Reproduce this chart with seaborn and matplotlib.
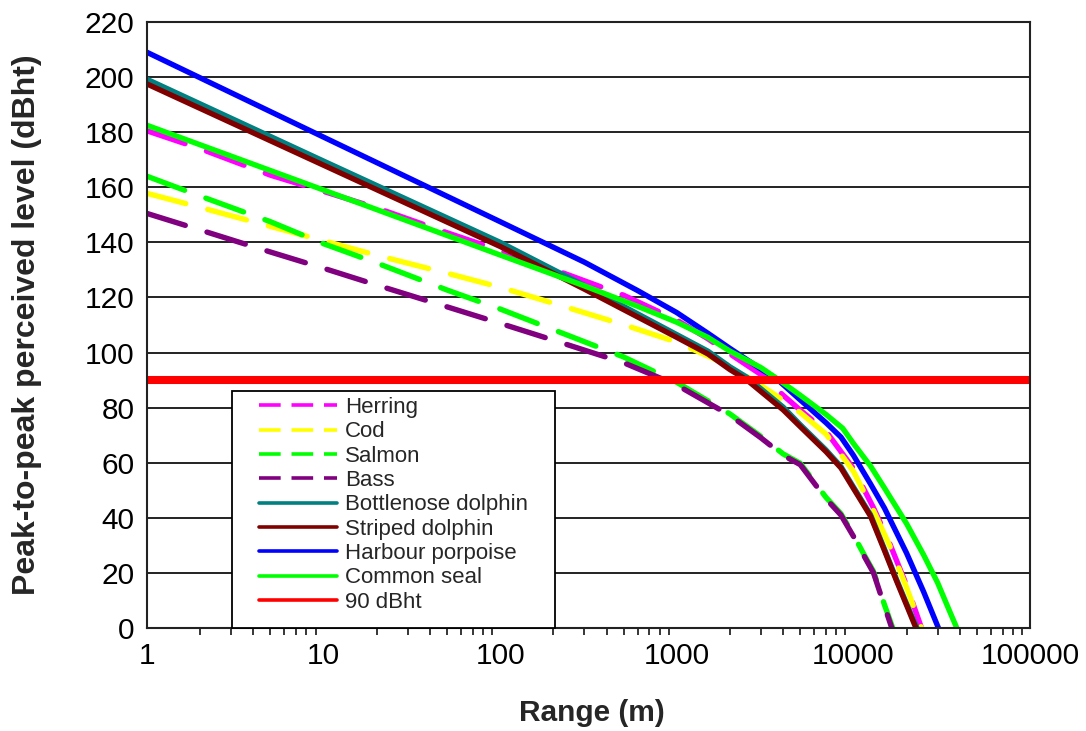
import matplotlib
matplotlib.use("Agg")
import matplotlib.pyplot as plt
import numpy as np
import pandas as pd
import seaborn as sns
from matplotlib.lines import Line2D
from matplotlib.patches import Rectangle
from matplotlib.ticker import LogLocator, NullFormatter

# Perceived peak-to-peak level (dBht) against range (m) for each species
herring_range = [1, 2, 5, 10, 20, 50, 100, 200, 500, 1000, 1500, 2000, 3000, 4000,
                 5000, 7000, 10000, 13000, 16000, 20000, 24300]
herring_level = [180.5, 174.0, 164.4, 158.5, 152.5, 143.5, 137.0, 130.2, 120.8, 111.8,
                 105.0, 99.5, 92.0, 84.5, 79.1, 71.4, 57.9, 43.6, 30.9, 15.5, 0.0]

cod_range = [1, 2, 5, 10, 20, 50, 100, 200, 500, 1000, 2000, 3000, 4000, 5000,
             7000, 10000, 13000, 16000, 20000, 24300]
cod_level = [157.8, 152.7, 145.8, 140.6, 135.3, 128.8, 123.7, 117.9, 110.1, 103.8,
             95.1, 88.0, 82.7, 78.2, 70.4, 56.9, 42.6, 30.1, 14.7, 0.0]

salmon_range = [1, 2, 5, 10, 20, 50, 100, 200, 500, 1000, 2000, 3000, 4000, 5000,
                7000, 8500, 10000, 11500, 13000, 15000, 16700]
salmon_level = [164.0, 156.8, 147.5, 139.5, 132.5, 122.7, 115.8, 108.3, 98.4, 89.2,
                77.7, 69.5, 63.2, 59.8, 47.4, 41.5, 33.8, 26.6, 20.5, 8.4, 0.0]

bass_range = [1, 2, 5, 10, 20, 50, 100, 200, 500, 1000, 2000, 3000, 4000, 5000,
              7000, 8500, 10000, 11500, 13000, 15000, 16500]
bass_level = [150.5, 144.5, 136.5, 130.6, 124.5, 116.6, 110.6, 104.5, 96.3, 88.2,
              77.2, 69.0, 62.7, 59.3, 46.9, 41.0, 33.3, 26.1, 20.0, 7.9, 0.0]

bottlenose_range = [1, 10, 100, 300, 1000, 1500, 2000, 2500, 3000, 4000, 5000, 7000,
                    8500, 10000, 12500, 15000, 17500, 20000, 22900]
bottlenose_level = [199.2, 169.5, 140.0, 124.3, 106.5, 100.5, 94.8, 91.0, 86.8, 80.2,
                    73.8, 64.6, 58.6, 51.2, 41.1, 28.6, 17.8, 8.8, 0.0]

striped_range = [1, 10, 100, 300, 1000, 1500, 2000, 2500, 3000, 4000, 5000, 7000,
                 8500, 10000, 12500, 15000, 17500, 20000, 22600]
striped_level = [197.5, 168.0, 138.5, 123.0, 105.5, 99.5, 93.8, 90.0, 85.8, 79.2,
                 73.1, 64.0, 58.1, 50.7, 40.6, 28.1, 17.3, 8.3, 0.0]

porpoise_range = [1, 10, 100, 300, 600, 1000, 1500, 2000, 3000, 3700, 5000, 7000,
                  8500, 10000, 12500, 15000, 20000, 25000, 30300]
porpoise_level = [209.0, 178.2, 147.5, 132.8, 122.5, 114.5, 107.0, 101.5, 94.0, 90.3,
                  82.8, 74.5, 69.3, 62.7, 52.3, 43.5, 27.2, 13.1, 0.0]

seal_range = [1, 10, 100, 300, 600, 1000, 1500, 2000, 3000, 3700, 5000, 7000, 8700,
              10000, 12500, 15000, 20000, 25000, 30000, 35000, 38500]
seal_level = [182.5, 159.0, 135.4, 124.2, 116.8, 111.0, 105.5, 100.5, 94.5, 90.5,
              84.5, 77.5, 72.5, 67.0, 58.8, 50.8, 37.9, 26.5, 16.4, 6.2, 0.0]

threshold_range = [1, 100000]
threshold_level = [90, 90]

labels = ["Herring", "Cod", "Salmon", "Bass", "Bottlenose dolphin",
          "Striped dolphin", "Harbour porpoise", "Common seal", "90 dBht"]
colors = ["#FF00FF", "#FFFF00", "#00FF00", "#800080", "#008080",
          "#800000", "#0000FF", "#00FF00", "#FF0000"]
dashed = [True, True, True, True, False, False, False, False, False]
ranges = [herring_range, cod_range, salmon_range, bass_range, bottlenose_range,
          striped_range, porpoise_range, seal_range, threshold_range]
levels = [herring_level, cod_level, salmon_level, bass_level, bottlenose_level,
          striped_level, porpoise_level, seal_level, threshold_level]

x_ticks = [1, 10, 100, 1000, 10000, 100000]
x_tick_labels = ["1", "10", "100", "1000", "10000", "100000"]
y_ticks = list(range(0, 221, 20))

sns.set_theme(style="white")
plt.rcParams["font.family"] = ["Liberation Sans", "DejaVu Sans"]

fig = plt.figure(figsize=(10.86, 7.31), dpi=100)
ax = fig.add_axes([147 / 1086, 1 - 628 / 731, (1030 - 147) / 1086, (628 - 22) / 731])
ax.set_xscale("log")

for lab, r, lv, col, dsh in zip(labels, ranges, levels, colors, dashed):
    df = pd.DataFrame({"range": r, "level": lv})
    lw = 5.8 if lab == "90 dBht" else 3.9
    sns.lineplot(data=df, x="range", y="level", ax=ax, color=col, lw=lw,
                 sort=False, estimator=None, legend=False,
                 solid_capstyle="round", dash_capstyle="round",
                 solid_joinstyle="round")
    line = ax.get_lines()[-1]
    if dsh:
        line.set_dashes((7.4, 4.2))

ax.set_xlim(1, 100000)
ax.set_ylim(0, 220)

ax.set_xticks(x_ticks)
ax.set_xticklabels(x_tick_labels)
ax.xaxis.set_minor_locator(LogLocator(base=10, subs=np.arange(2, 10)))
ax.xaxis.set_minor_formatter(NullFormatter())
ax.set_yticks(y_ticks)
ax.set_yticklabels([str(v) for v in y_ticks])

ax.yaxis.grid(True, color="#111111", lw=1.3)
ax.xaxis.grid(False)
ax.set_axisbelow(True)

for side, sp in ax.spines.items():
    sp.set_visible(True)
    sp.set_color("#222222")
    sp.set_linewidth(1.5)

ax.tick_params(axis="both", which="major", direction="out", length=6, width=1.2,
               color="black", labelsize=21.5, labelcolor="black")
ax.tick_params(axis="x", which="major", pad=4)
ax.tick_params(axis="y", which="major", pad=3)
ax.tick_params(axis="x", which="minor", direction="out", length=5, width=1.1,
               color="black", bottom=True)

ax.set_xlabel("Range (m)", fontsize=21.5, fontweight="bold")
ax.xaxis.set_label_coords(0.504, -0.117)
ax.set_ylabel("Peak-to-peak perceived level (dBht)", fontsize=23,
              fontweight="bold")
ax.yaxis.set_label_coords(-0.119, 0.5)

# Legend box drawn as its own patch, entries placed inside it
legend_box = Rectangle((0.0963, 0.0), 0.366, 0.391, transform=ax.transAxes,
                       facecolor="white", edgecolor="black", lw=1.3,
                       zorder=4.5, clip_on=False)
ax.add_patch(legend_box)

handles = []
for col, dsh in zip(colors, dashed):
    if dsh:
        h = Line2D([], [], color=col, lw=2.6, linestyle=(0, (6.0, 3.0)))
    else:
        h = Line2D([], [], color=col, lw=2.6)
    handles.append(h)

leg = ax.legend(handles, labels, loc="upper left",
                bbox_to_anchor=(0.1268, 0.381), borderaxespad=0.0,
                frameon=False, fontsize=16, handlelength=3.5,
                handletextpad=0.36, labelspacing=0.15, borderpad=0.0)
leg.set_zorder(5)

fig.savefig("out.png", dpi=100, facecolor="white")
